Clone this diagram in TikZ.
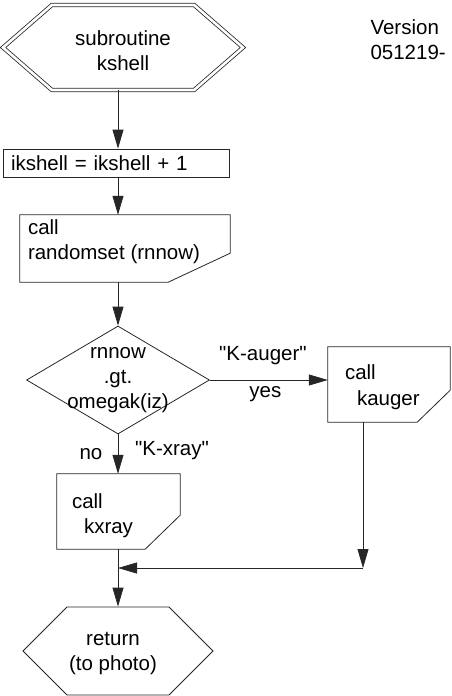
\documentclass[tikz,border=0pt]{standalone}
\usepackage{fontspec}
\setmainfont{Liberation Sans}
\usetikzlibrary{positioning,arrows.meta,shapes.geometric,shapes.symbols,calc}
\tikzset{
  base/.style={draw=black!85,line width=0.8pt,inner sep=0pt,align=center},
  terminal/.style={base,signal,signal to=west and east,signal pointer angle=90,
            minimum width=190pt,minimum height=88pt},
  startterm/.style={terminal,double,double distance=2.6pt,signal pointer angle=82,
            minimum width=240pt,minimum height=85pt},
  assign/.style={base,rectangle,align=left,inner xsep=8pt,minimum height=28pt},
  callbox/.style={rectangle,inner sep=0pt},
  decision/.style={base,diamond,minimum width=183pt,minimum height=108pt,aspect=1.69},
  flow/.style={-{Triangle[length=19pt,width=11pt]},draw=black!85,line width=0.8pt},
  outline/.style={draw=black!85,line width=0.8pt},
  lbl/.style={inner sep=0pt},
  txt/.style={inner sep=0pt,anchor=west,align=left},
}
\newcommand\chartfont{\fontsize{20.5}{25}\selectfont}
% box with its lower right corner cut off
\newcommand\cutcorner[3]{%
  \draw[outline] (#1.north west) -- (#1.north east) -- ($(#1.south east)+(0,-#3)$)
    -- ($(#1.south east)+(-#2,0)$) -- (#1.south west) -- cycle;}

\begin{document}
\begin{tikzpicture}[x=1pt,y=-1pt,every node/.style={font=\chartfont}]
  \useasboundingbox (0,0) rectangle (451,696);
  \coordinate (spine) at (118,0);
  \node[startterm] (sub) at (123,47.5) {};
  \node[lbl,align=center] (subtxt) at (123,51) {subroutine\\kshell};
  \node[anchor=west,align=left] (ver) at (367,40) {Version\\051219-};
  \node[assign,text width=210pt] (inc) at (116,163) {ikshell = ikshell + 1};
  \node[callbox,minimum width=210pt,minimum height=67pt] (rand) at (125,248.5) {};
  \cutcorner{rand}{62}{29}
  \node[txt] (randtxt) at ([xshift=8pt,yshift=6.5pt]rand.west) {call\\randomset (rnnow)};
  \node[decision] (test) at (118,380) {};
  \node[lbl,align=center] (testtxt) at (118,380) {rnnow\\.gt.\\omegak(iz)};
  \node[callbox,minimum width=122pt,minimum height=75pt] (kauger) at (389,384.5) {};
  \cutcorner{kauger}{33}{32}
  \node[txt] (kaugertxt) at ([xshift=17pt,yshift=-2.5pt]kauger.west)
    {call\\[1pt]\hspace*{12pt}kauger};
  \node[callbox,minimum width=123pt,minimum height=75pt] (kxray) at (118.5,511.5) {};
  \cutcorner{kxray}{35}{34}
  \node[txt] (kxraytxt) at ([xshift=15pt,yshift=-4.5pt]kxray.west)
    {call\\\hspace*{12pt}kxray};
  \node[terminal] (ret) at (118,651) {};
  \node[lbl,align=center] (rettxt) at (113,653) {return\\(to photo)};
  % main line down the left
  \draw[flow] (sub.south -| spine) -- (inc.north -| spine);
  \draw[flow] (inc.south -| spine) -- (rand.north -| spine);
  \draw[flow] (rand.south -| spine) -- (test.north);
  \draw[flow] (test.east) -- (test.east -| kauger.west)
    node[lbl,pos=0.45,yshift=24pt] {\textquotedbl K-auger\textquotedbl}
    node[lbl,pos=0.47,yshift=-14pt] {yes};
  \draw[flow] (test.south) -- (kxray.north -| spine)
    node[lbl,midway,xshift=-27pt] {no}
    node[lbl,midway,xshift=54pt,yshift=4pt] {\textquotedbl K-xray\textquotedbl};
  % auger branch joins back in
  \coordinate (merge) at (118,568);
  \coordinate (augout) at ([xshift=-26pt]kauger.south);
  \coordinate (augin) at (augout |- merge);
  \draw[flow] (augout) -- (augin);
  \draw[flow] (augin) -- (merge);
  \draw[flow] (kxray.south -| spine) -- (ret.north);
\end{tikzpicture}
\end{document}
